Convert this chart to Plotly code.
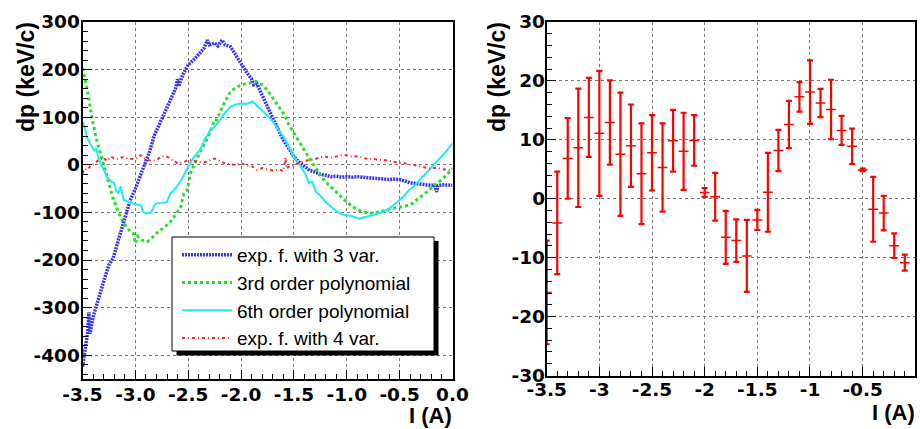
import plotly.graph_objects as go

W, H = 920, 429

# ---------------- left panel data ----------------
blue_x = [-3.50, -3.47, -3.45, -3.44, -3.43, -3.40, -3.35, -3.30, -3.25, -3.21, -3.15, -3.10, -3.05, -3.00,
          -2.95, -2.91, -2.87, -2.82, -2.75, -2.70, -2.65, -2.62, -2.60, -2.59, -2.55, -2.50, -2.45, -2.40,
          -2.35, -2.32, -2.30, -2.25, -2.22, -2.18, -2.15, -2.10, -2.05, -2.00, -1.95, -1.90, -1.88, -1.85,
          -1.80, -1.75, -1.70, -1.65, -1.60, -1.55, -1.50, -1.45, -1.40, -1.35, -1.30, -1.25, -1.20, -1.15,
          -1.10, -1.05, -1.00, -0.95, -0.90, -0.85, -0.80, -0.75, -0.70, -0.65, -0.60, -0.55, -0.50, -0.45,
          -0.40, -0.35, -0.30, -0.25, -0.20, -0.17, -0.15, -0.14, -0.10, -0.05, 0.00]
blue_y = [-424, -380, -350, -310, -355, -320, -280, -245, -210, -196, -150, -110, -75, -50,
          -20, 0, 25, 62, 95, 120, 145, 160, 180, 165, 190, 210, 220, 232,
          245, 262, 252, 256, 250, 262, 252, 248, 230, 210, 195, 180, 168, 170,
          145, 120, 98, 75, 52, 35, 17, 5, -4, -12, -15, -20, -22, -25,
          -24, -26, -25, -26, -25, -26, -27, -28, -29, -30, -31, -30, -31, -34,
          -38, -39, -41, -42, -43, -43, -57, -44, -42, -43, -43]

green_x = [-3.50, -3.46, -3.41, -3.37, -3.33, -3.27, -3.21, -3.16, -3.11, -3.05, -3.02, -3.00, -2.98, -2.94,
           -2.89, -2.85, -2.80, -2.73, -2.67, -2.62, -2.57, -2.54, -2.51, -2.48, -2.42, -2.37, -2.31, -2.27,
           -2.25, -2.23, -2.17, -2.10, -2.05, -2.00, -1.93, -1.86, -1.80, -1.75, -1.70, -1.65, -1.59, -1.55,
           -1.50, -1.45, -1.40, -1.35, -1.29, -1.25, -1.20, -1.15, -1.10, -1.05, -1.00, -0.93, -0.85, -0.77,
           -0.69, -0.63, -0.58, -0.52, -0.47, -0.42, -0.38, -0.33, -0.28, -0.23, -0.19, -0.14, -0.09, -0.05, 0.00]
green_y = [203, 164, 98, 55, 24, -25, -71, -100, -123, -140, -144, -165, -150, -158,
           -162, -155, -144, -132, -120, -105, -88, -60, -53, -18, 10, 35, 59, 85,
           95, 94, 125, 154, 162, 168, 172, 175, 168, 157, 140, 125, 105, 85,
           66, 48, 31, 12, -8, -22, -36, -47, -57, -68, -78, -90, -99, -102,
           -99, -96, -92, -90, -88, -85, -81, -72, -64, -55, -46, -38, -29, -20, -8]

cyan_x = [-3.50, -3.48, -3.46, -3.43, -3.41, -3.39, -3.37, -3.35, -3.33, -3.30, -3.27, -3.23, -3.20, -3.18,
          -3.16, -3.14, -3.11, -3.06, -3.02, -3.00, -2.95, -2.92, -2.89, -2.85, -2.82, -2.80, -2.75, -2.70,
          -2.67, -2.64, -2.61, -2.56, -2.50, -2.45, -2.39, -2.34, -2.29, -2.25, -2.20, -2.15, -2.10, -2.05,
          -2.00, -1.95, -1.89, -1.85, -1.80, -1.75, -1.70, -1.65, -1.59, -1.55, -1.50, -1.46, -1.42, -1.39,
          -1.36, -1.33, -1.29, -1.25, -1.20, -1.15, -1.09, -1.05, -1.00, -0.95, -0.88, -0.82, -0.76, -0.70,
          -0.65, -0.60, -0.55, -0.50, -0.45, -0.41, -0.36, -0.31, -0.27, -0.22, -0.17, -0.12, -0.06, 0.00]
cyan_y = [90, 80, 59, 48, 38, 30, 35, 15, 3, -10, -25, -35, -39, -55,
          -60, -45, -74, -78, -81, -83, -85, -100, -102, -100, -85, -81, -80, -78,
          -60, -55, -46, -30, -4, 15, 31, 55, 73, 80, 94, 110, 122, 127,
          129, 128, 133, 125, 115, 103, 91, 75, 56, 38, 17, 5, -8, -20,
          -39, -35, -57, -65, -78, -88, -99, -104, -106, -108, -113, -110, -106, -102,
          -98, -92, -83, -74, -63, -53, -44, -32, -22, -11, 1, 13, 28, 45]

red_x = [-3.50, -3.48, -3.45, -3.42, -3.38, -3.35, -3.30, -3.27, -3.23, -3.18, -3.12, -3.05, -3.00, -2.95,
         -2.90, -2.85, -2.80, -2.75, -2.70, -2.65, -2.60, -2.55, -2.50, -2.45, -2.40, -2.35, -2.30, -2.25,
         -2.20, -2.15, -2.10, -2.05, -2.00, -1.95, -1.90, -1.85, -1.80, -1.75, -1.70, -1.65, -1.60, -1.58,
         -1.57, -1.55, -1.50, -1.45, -1.40, -1.35, -1.30, -1.25, -1.20, -1.15, -1.10, -1.05, -1.00, -0.95,
         -0.90, -0.85, -0.80, -0.75, -0.70, -0.65, -0.60, -0.55, -0.50, -0.45, -0.40, -0.35, -0.30, -0.25,
         -0.20, -0.15, -0.10, -0.05, 0.00]
red_y = [-18, -8, -10, 0, 3, 10, 15, 8, 17, 12, 16, 12, 13, 20,
         12, 8, 10, 18, 17, 10, 3, 5, 10, 8, 6, 5, 9, 13,
         8, 3, 1, 0, 3, -1, -3, -10, -7, -10, -12, -10, -13, 16,
         -8, -4, 0, 3, 8, 10, 12, 16, 17, 15, 18, 20, 20, 17,
         18, 15, 12, 13, 10, 10, 8, 5, 4, 3, 0, -1, -4, -6,
         -8, -6, -9, -10, -11]

legend_names = ["exp. f. with 3 var.", "3rd order polynomial", "6th order polynomial", "exp. f. with 4 var."]

# ---------------- right panel data ----------------
r_x = [-3.5, -3.4, -3.3, -3.2, -3.1, -3.0, -2.9, -2.8, -2.7, -2.6, -2.5, -2.4, -2.3, -2.2, -2.1,
       -2.0, -1.9, -1.8, -1.7, -1.6, -1.5, -1.4, -1.3, -1.2, -1.1, -1.0, -0.9, -0.8, -0.7, -0.6,
       -0.5, -0.4, -0.3, -0.2, -0.1]
r_y = [-15.9, -4.1, 6.85, 8.65, 13.8, 11.1, 12.95, 7.55, 9.0, 4.25, 7.8, 5.3, 9.85, 8.05, 9.9,
       1.05, 0.35, -6.55, -7.1, -9.7, -3.6, 1.1, 8.2, 12.6, 17.3, 18.1, 16.25, 15.15, 11.6, 8.9,
       4.9, -1.8, -2.43, -7.96, -10.85]
r_err = [8.8, 8.7, 6.85, 10.05, 6.7, 10.6, 7.15, 10.45, 7.0, 8.55, 6.4, 7.5, 5.25, 6.55, 4.3,
         0.75, 4.05, 4.5, 3.6, 6.1, 1.7, 6.7, 3.5, 4.0, 2.5, 5.4, 2.4, 5.05, 2.45, 3.0,
         0.2, 5.5, 2.93, 2.1, 1.35]

left_x_ticks = [-3.5, -3.0, -2.5, -2.0, -1.5, -1.0, -0.5, 0.0]
left_y_ticks = [-400, -300, -200, -100, 0, 100, 200, 300]
right_x_ticks = [-3.5, -3, -2.5, -2, -1.5, -1, -0.5, 0]
right_y_ticks = [-30, -20, -10, 0, 10, 20, 30]

FONT = "Liberation Sans"
TICKFONT = "DejaVu Sans"


def px_x(p):
    return p / W


def px_y(p):
    return 1 - p / H


def bold(vals, fmt):
    return ["<b>" + fmt(v) + "</b>" for v in vals]


fig = go.Figure()

styles = [
    dict(color="#3535f0", width=3.5, dash="2px,1px"),
    dict(color="#22e022", width=3, dash="3px,3px"),
    dict(color="#22eaf2", width=2, dash="solid"),
    dict(color="#ff2020", width=2, dash="3px,3px,1px,3px"),
]
for i, (xs, ys) in enumerate([(blue_x, blue_y), (green_x, green_y), (cyan_x, cyan_y), (red_x, red_y)]):
    fig.add_trace(go.Scatter(x=xs, y=ys, mode="lines", name=legend_names[i], line=styles[i],
                             xaxis="x", yaxis="y", legendgroup=str(i)))

fig.add_trace(go.Scatter(
    x=r_x, y=r_y, mode="markers", xaxis="x2", yaxis="y2", showlegend=False,
    marker=dict(symbol="line-ew", size=7, color="red", line=dict(color="red", width=1.5)),
    error_y=dict(type="data", array=r_err, visible=True, color="red", thickness=2.2, width=3),
))

axis_common = dict(
    showline=True, linecolor="black", linewidth=2, mirror=True, automargin=False,
    ticks="inside", ticklen=9, tickwidth=1, tickcolor="black",
    showgrid=True, gridcolor="#777", griddash="dot", gridwidth=1,
    zeroline=False,
    tickfont=dict(family=TICKFONT, size=18.5, color="black", weight="bold"),
)

fig.update_layout(
    width=W, height=H, margin=dict(l=0, r=0, t=0, b=0, autoexpand=False),
    paper_bgcolor="white", plot_bgcolor="white",
    showlegend=True,
    xaxis=dict(domain=[px_x(82.5), px_x(452.5)], range=[-3.5, 0], anchor="y",
               tickvals=left_x_ticks, ticktext=bold(left_x_ticks, lambda v: f"{v:.1f}"),
               ticklabelstandoff=-2,
               minor=dict(dtick=0.1, ticks="inside", ticklen=5, tickcolor="black", showgrid=False),
               **axis_common),
    yaxis=dict(domain=[px_y(379), px_y(22)], range=[-450, 300], anchor="x",
               tickvals=left_y_ticks, ticktext=bold(left_y_ticks, lambda v: f"{v:d}"),
               ticklabelstandoff=-3,
               minor=dict(dtick=20, ticks="inside", ticklen=5, tickcolor="black", showgrid=False),
               **axis_common),
    xaxis2=dict(domain=[px_x(546.7), px_x(915.3)], range=[-3.5, 0], anchor="y2",
                tickvals=right_x_ticks, ticktext=bold(right_x_ticks, lambda v: f"{v:g}"),
                ticklabelstandoff=-4,
                minor=dict(dtick=0.1, ticks="inside", ticklen=5, tickcolor="black", showgrid=False),
                **axis_common),
    yaxis2=dict(domain=[px_y(375.5), px_y(22)], range=[-30, 30], anchor="x2",
                tickvals=right_y_ticks, ticktext=bold(right_y_ticks, lambda v: f"{v:d}"),
                ticklabelstandoff=-4,
                minor=dict(dtick=2, ticks="inside", ticklen=5, tickcolor="black", showgrid=False),
                **axis_common),
    legend=dict(x=px_x(177), y=px_y(236), xanchor="left", yanchor="top",
                bgcolor="rgba(0,0,0,0)", borderwidth=0, itemwidth=50, tracegroupgap=0,
                font=dict(family=FONT, size=19, color="black")),
    shapes=[
        dict(type="rect", xref="paper", yref="paper", layer="above",
             x0=px_x(176.5), x1=px_x(438.5), y0=px_y(355.5), y1=px_y(241),
             fillcolor="black", line=dict(width=0)),
        dict(type="rect", xref="paper", yref="paper", layer="above",
             x0=px_x(172), x1=px_x(434), y0=px_y(351), y1=px_y(237),
             fillcolor="white", line=dict(color="black", width=1)),
    ],
    annotations=[
        dict(text="<b>dp (keV/c)</b>", textangle=-90, xref="paper", yref="paper",
             x=px_x(26), y=px_y(20), xanchor="center", yanchor="top", showarrow=False,
             font=dict(family=FONT, size=23, color="black")),
        dict(text="<b>dp (keV/c)</b>", textangle=-90, xref="paper", yref="paper",
             x=px_x(497), y=px_y(20), xanchor="center", yanchor="top", showarrow=False,
             font=dict(family=FONT, size=23, color="black")),
        dict(text="<b>I (A)</b>", xref="paper", yref="paper",
             x=px_x(454), y=px_y(415), xanchor="right", yanchor="middle", showarrow=False,
             font=dict(family=FONT, size=22, color="black")),
        dict(text="<b>I (A)</b>", xref="paper", yref="paper",
             x=px_x(917), y=px_y(412), xanchor="right", yanchor="middle", showarrow=False,
             font=dict(family=FONT, size=22, color="black")),
    ],
)

fig.write_html("out.html")
